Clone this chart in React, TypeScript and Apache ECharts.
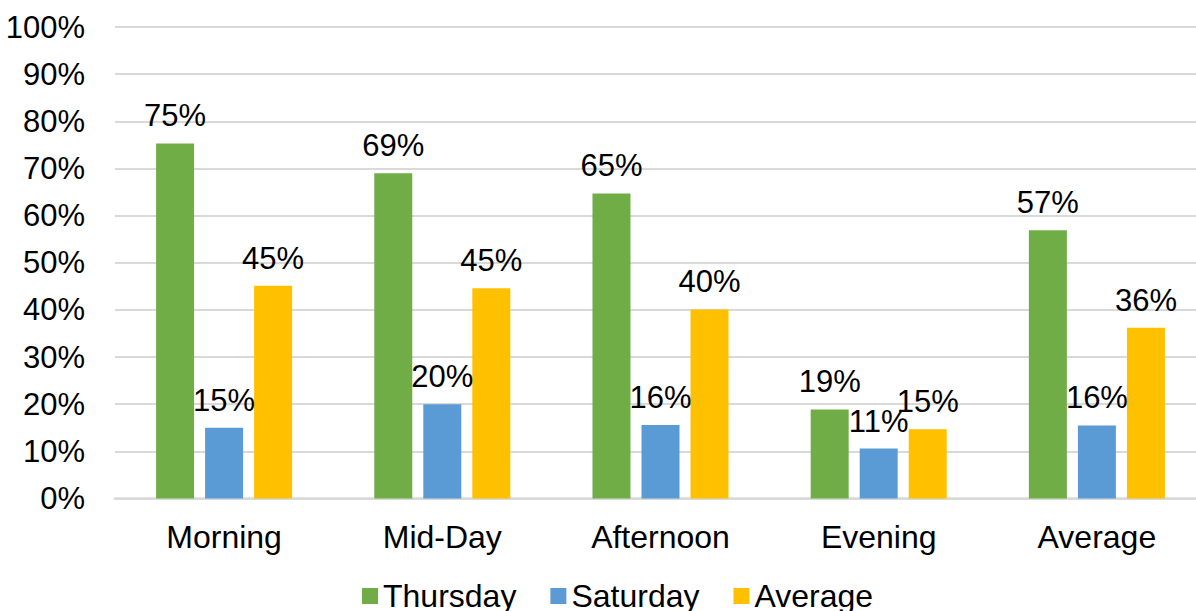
import React, { useEffect, useRef } from "react";
import * as echarts from "echarts";

const categories = ["Morning", "Mid-Day", "Afternoon", "Evening", "Average"];
const thursday = [75.3, 69.0, 64.7, 18.9, 56.9];
const saturday = [15.0, 20.0, 15.6, 10.6, 15.5];
const average = [45.1, 44.6, 40.1, 14.7, 36.2];

const FONT = "'Liberation Sans', Arial, sans-serif";
const FS = 31;
const FS_LARGE = 32;

export default function App() {
  const ref = useRef<HTMLDivElement>(null);

  useEffect(() => {
    if (!ref.current) return;
    const chart = echarts.init(ref.current, undefined, { renderer: "svg" });

    const label = {
      show: true,
      position: "top" as const,
      distance: 12,
      color: "#000",
      fontSize: FS,
      fontFamily: FONT,
      formatter: (p: any) => Math.round(p.value) + "%",
    };

    const mk = (name: string, data: number[], color: string) => ({
      name,
      type: "bar" as const,
      data,
      barWidth: 38,
      barGap: "29%",
      itemStyle: { color },
      label,
    });

    chart.setOption({
      animation: false,
      backgroundColor: "#fff",
      textStyle: { fontFamily: FONT },
      grid: { left: 115, right: 0, top: 27, bottom: 112.5, containLabel: false },
      legend: {
        data: ["Thursday", "Saturday", "Average"],
        left: 357,
        top: 575,
        icon: "rect",
        itemWidth: 16,
        itemHeight: 16,
        itemGap: 34,
        textStyle: { color: "#000", fontSize: FS_LARGE, fontFamily: FONT },
      },
      xAxis: {
        type: "category",
        data: categories,
        axisTick: { show: false },
        axisLine: { lineStyle: { color: "#d9d9d9", width: 2.5 } },
        axisLabel: { color: "#000", fontSize: FS_LARGE, fontFamily: FONT, margin: 22 },
      },
      yAxis: {
        type: "value",
        min: 0,
        max: 100,
        interval: 10,
        axisLine: { show: false },
        axisTick: { show: false },
        splitLine: { lineStyle: { color: "#d9d9d9", width: 2 } },
        axisLabel: {
          color: "#000",
          fontSize: FS,
          fontFamily: FONT,
          margin: 30,
          formatter: "{value}%",
        },
      },
      series: [
        mk("Thursday", thursday, "#70AD47"),
        mk("Saturday", saturday, "#5B9BD5"),
        mk("Average", average, "#FFC000"),
      ],
    });

    return () => chart.dispose();
  }, []);

  return (
    <div
      ref={ref}
      style={{ position: "fixed", left: 0, top: 0, width: 1206, height: 611 }}
    />
  );
}
